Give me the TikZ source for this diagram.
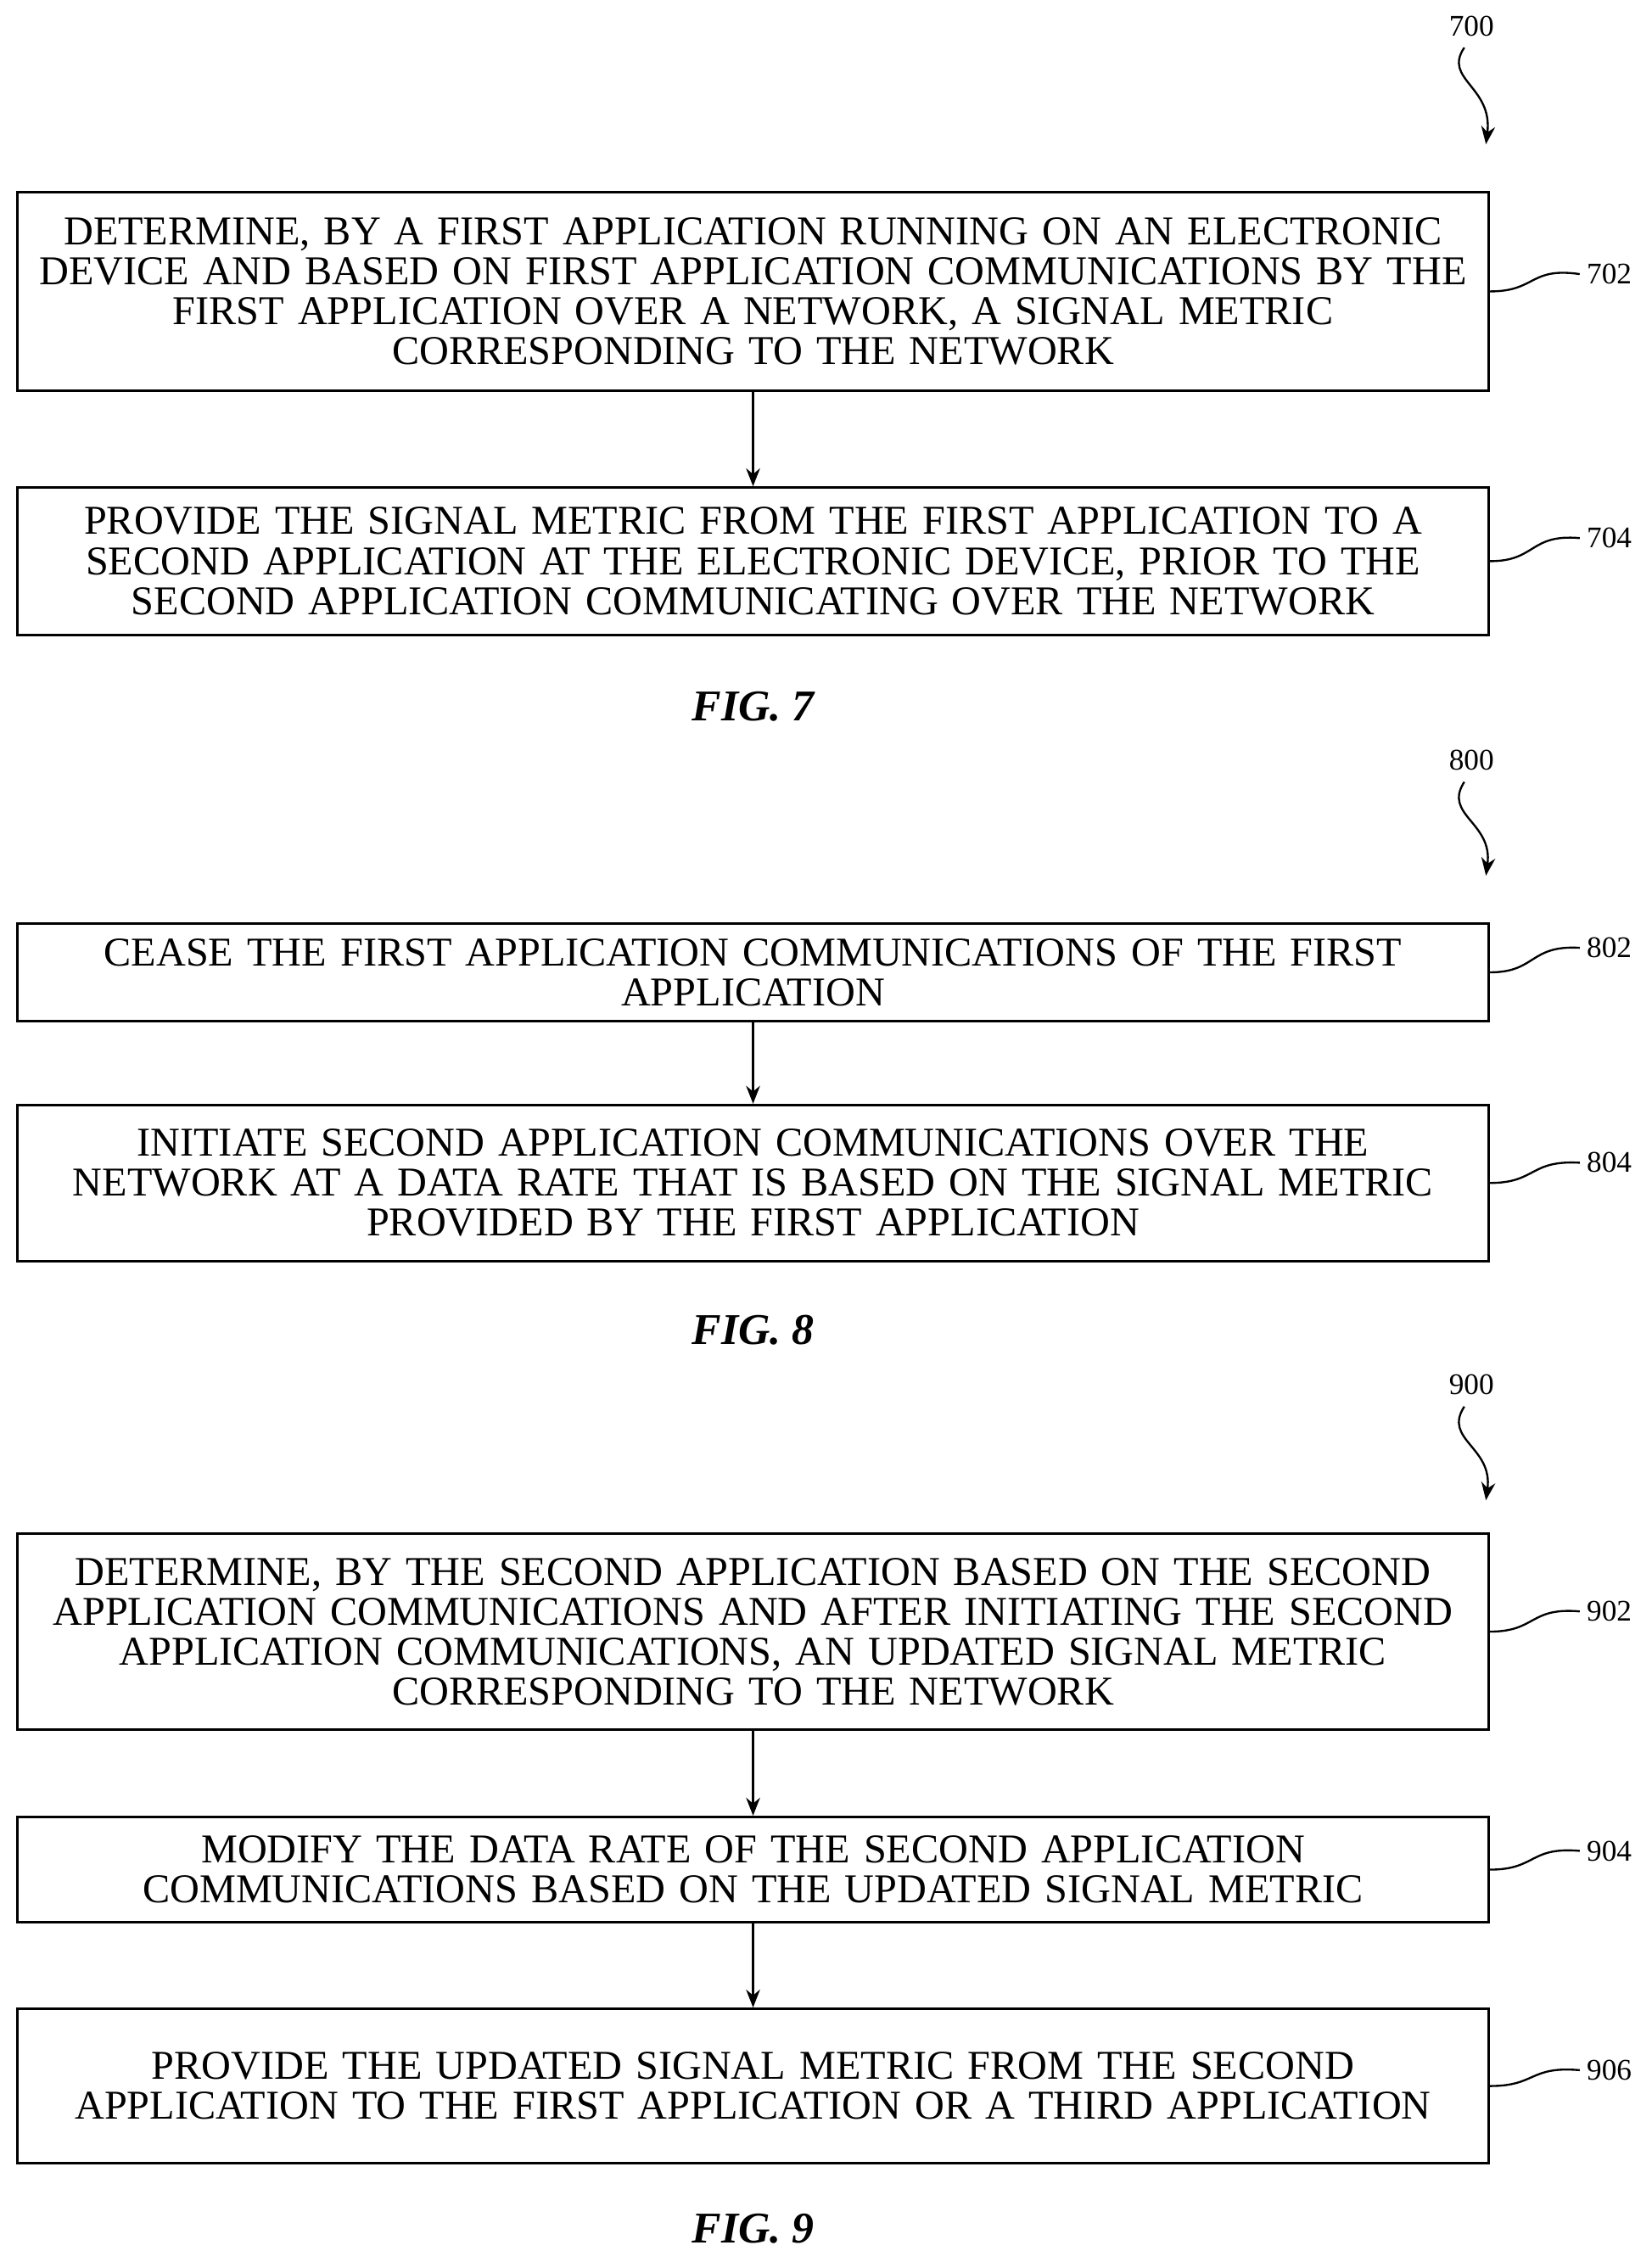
\documentclass[tikz,border=0pt]{standalone}
\usepackage{fontspec}
\setmainfont{Liberation Serif}
\usetikzlibrary{arrows.meta}

\tikzset{
  stepbox/.style={draw, line width=1.3pt, minimum width=1020*0.0254cm, text width=1015*0.0254cm,
    align=center, inner sep=0pt, font=\fontsize{20.5}{20}\selectfont},
  flow/.style={-{Stealth[length=9pt,width=7pt]}, line width=1pt},
  refnum/.style={font=\fontsize{15}{18}\selectfont, anchor=west},
  lead/.style={line width=1pt},
  figcap/.style={font=\fontsize{22}{26}\selectfont\bfseries\itshape}
}

\begin{document}
\begin{tikzpicture}[x=0.0254cm, y=-0.0254cm]
    \useasboundingbox (0,0) rectangle (1145,1568);

    % FIG. 7
    \node (n700) at (1020,18) {\fontsize{15}{18}\selectfont 700};
    \coordinate (t700) at (1030,100);
    \draw[flow] (1015,33) .. controls (1000,55) and (1035,60) .. (t700);
    \node[stepbox, minimum height=138*0.0254cm] (b702) at (522,202) {DETERMINE, BY A FIRST APPLICATION RUNNING ON AN ELECTRONIC\\ DEVICE AND BASED ON FIRST APPLICATION COMMUNICATIONS BY THE\\ FIRST APPLICATION OVER A NETWORK, A SIGNAL METRIC\\ CORRESPONDING TO THE NETWORK};
    \node[stepbox, minimum height=102*0.0254cm] (b704) at (522,389) {PROVIDE THE SIGNAL METRIC FROM THE FIRST APPLICATION TO A\\ SECOND APPLICATION AT THE ELECTRONIC DEVICE, PRIOR TO THE\\ SECOND APPLICATION COMMUNICATING OVER THE NETWORK};
    \draw[flow] (b702) -- (b704);
    \node[refnum] (l702) at (1095,190) {702};
    \node[refnum] (l704) at (1095,373) {704};
    \draw[lead] (b702.east) .. controls (1065,202) and (1060,185) .. (l702.west);
    \draw[lead] (b704.east) .. controls (1065,389) and (1060,370) .. (l704.west);
    \node[figcap] (f7) at (522,490) {FIG. 7};

    % FIG. 8
    \node (n800) at (1020,527) {\fontsize{15}{18}\selectfont 800};
    \coordinate (t800) at (1030,607);
    \draw[flow] (1015,542) .. controls (1000,565) and (1035,570) .. (t800);
    \node[stepbox, minimum height=68*0.0254cm] (b802) at (522,674) {CEASE THE FIRST APPLICATION COMMUNICATIONS OF THE FIRST\\ APPLICATION};
    \node[stepbox, minimum height=108*0.0254cm] (b804) at (522,820) {INITIATE SECOND APPLICATION COMMUNICATIONS OVER THE\\ NETWORK AT A DATA RATE THAT IS BASED ON THE SIGNAL METRIC\\ PROVIDED BY THE FIRST APPLICATION};
    \draw[flow] (b802) -- (b804);
    \node[refnum] (l802) at (1095,657) {802};
    \node[refnum] (l804) at (1095,806) {804};
    \draw[lead] (b802.east) .. controls (1065,674) and (1060,655) .. (l802.west);
    \draw[lead] (b804.east) .. controls (1065,820) and (1060,804) .. (l804.west);
    \node[figcap] (f8) at (522,922) {FIG. 8};

    % FIG. 9
    \node (n900) at (1020,960) {\fontsize{15}{18}\selectfont 900};
    \coordinate (t900) at (1030,1040);
    \draw[flow] (1015,975) .. controls (1000,998) and (1035,1003) .. (t900);
    \node[stepbox, minimum height=136*0.0254cm] (b902) at (522,1131) {DETERMINE, BY THE SECOND APPLICATION BASED ON THE SECOND\\ APPLICATION COMMUNICATIONS AND AFTER INITIATING THE SECOND\\ APPLICATION COMMUNICATIONS, AN UPDATED SIGNAL METRIC\\ CORRESPONDING TO THE NETWORK};
    \node[stepbox, minimum height=73*0.0254cm] (b904) at (522,1296) {MODIFY THE DATA RATE OF THE SECOND APPLICATION\\ COMMUNICATIONS BASED ON THE UPDATED SIGNAL METRIC};
    \node[stepbox, minimum height=107*0.0254cm] (b906) at (522,1446) {PROVIDE THE UPDATED SIGNAL METRIC FROM THE SECOND\\ APPLICATION TO THE FIRST APPLICATION OR A THIRD APPLICATION};
    \draw[flow] (b902) -- (b904);
    \draw[flow] (b904) -- (b906);
    \node[refnum] (l902) at (1095,1117) {902};
    \node[refnum] (l904) at (1095,1283) {904};
    \node[refnum] (l906) at (1095,1435) {906};
    \draw[lead] (b902.east) .. controls (1065,1131) and (1060,1114) .. (l902.west);
    \draw[lead] (b904.east) .. controls (1065,1296) and (1060,1280) .. (l904.west);
    \draw[lead] (b906.east) .. controls (1065,1446) and (1060,1432) .. (l906.west);
    \node[figcap] (f9) at (522,1545) {FIG. 9};
\end{tikzpicture}
\end{document}
